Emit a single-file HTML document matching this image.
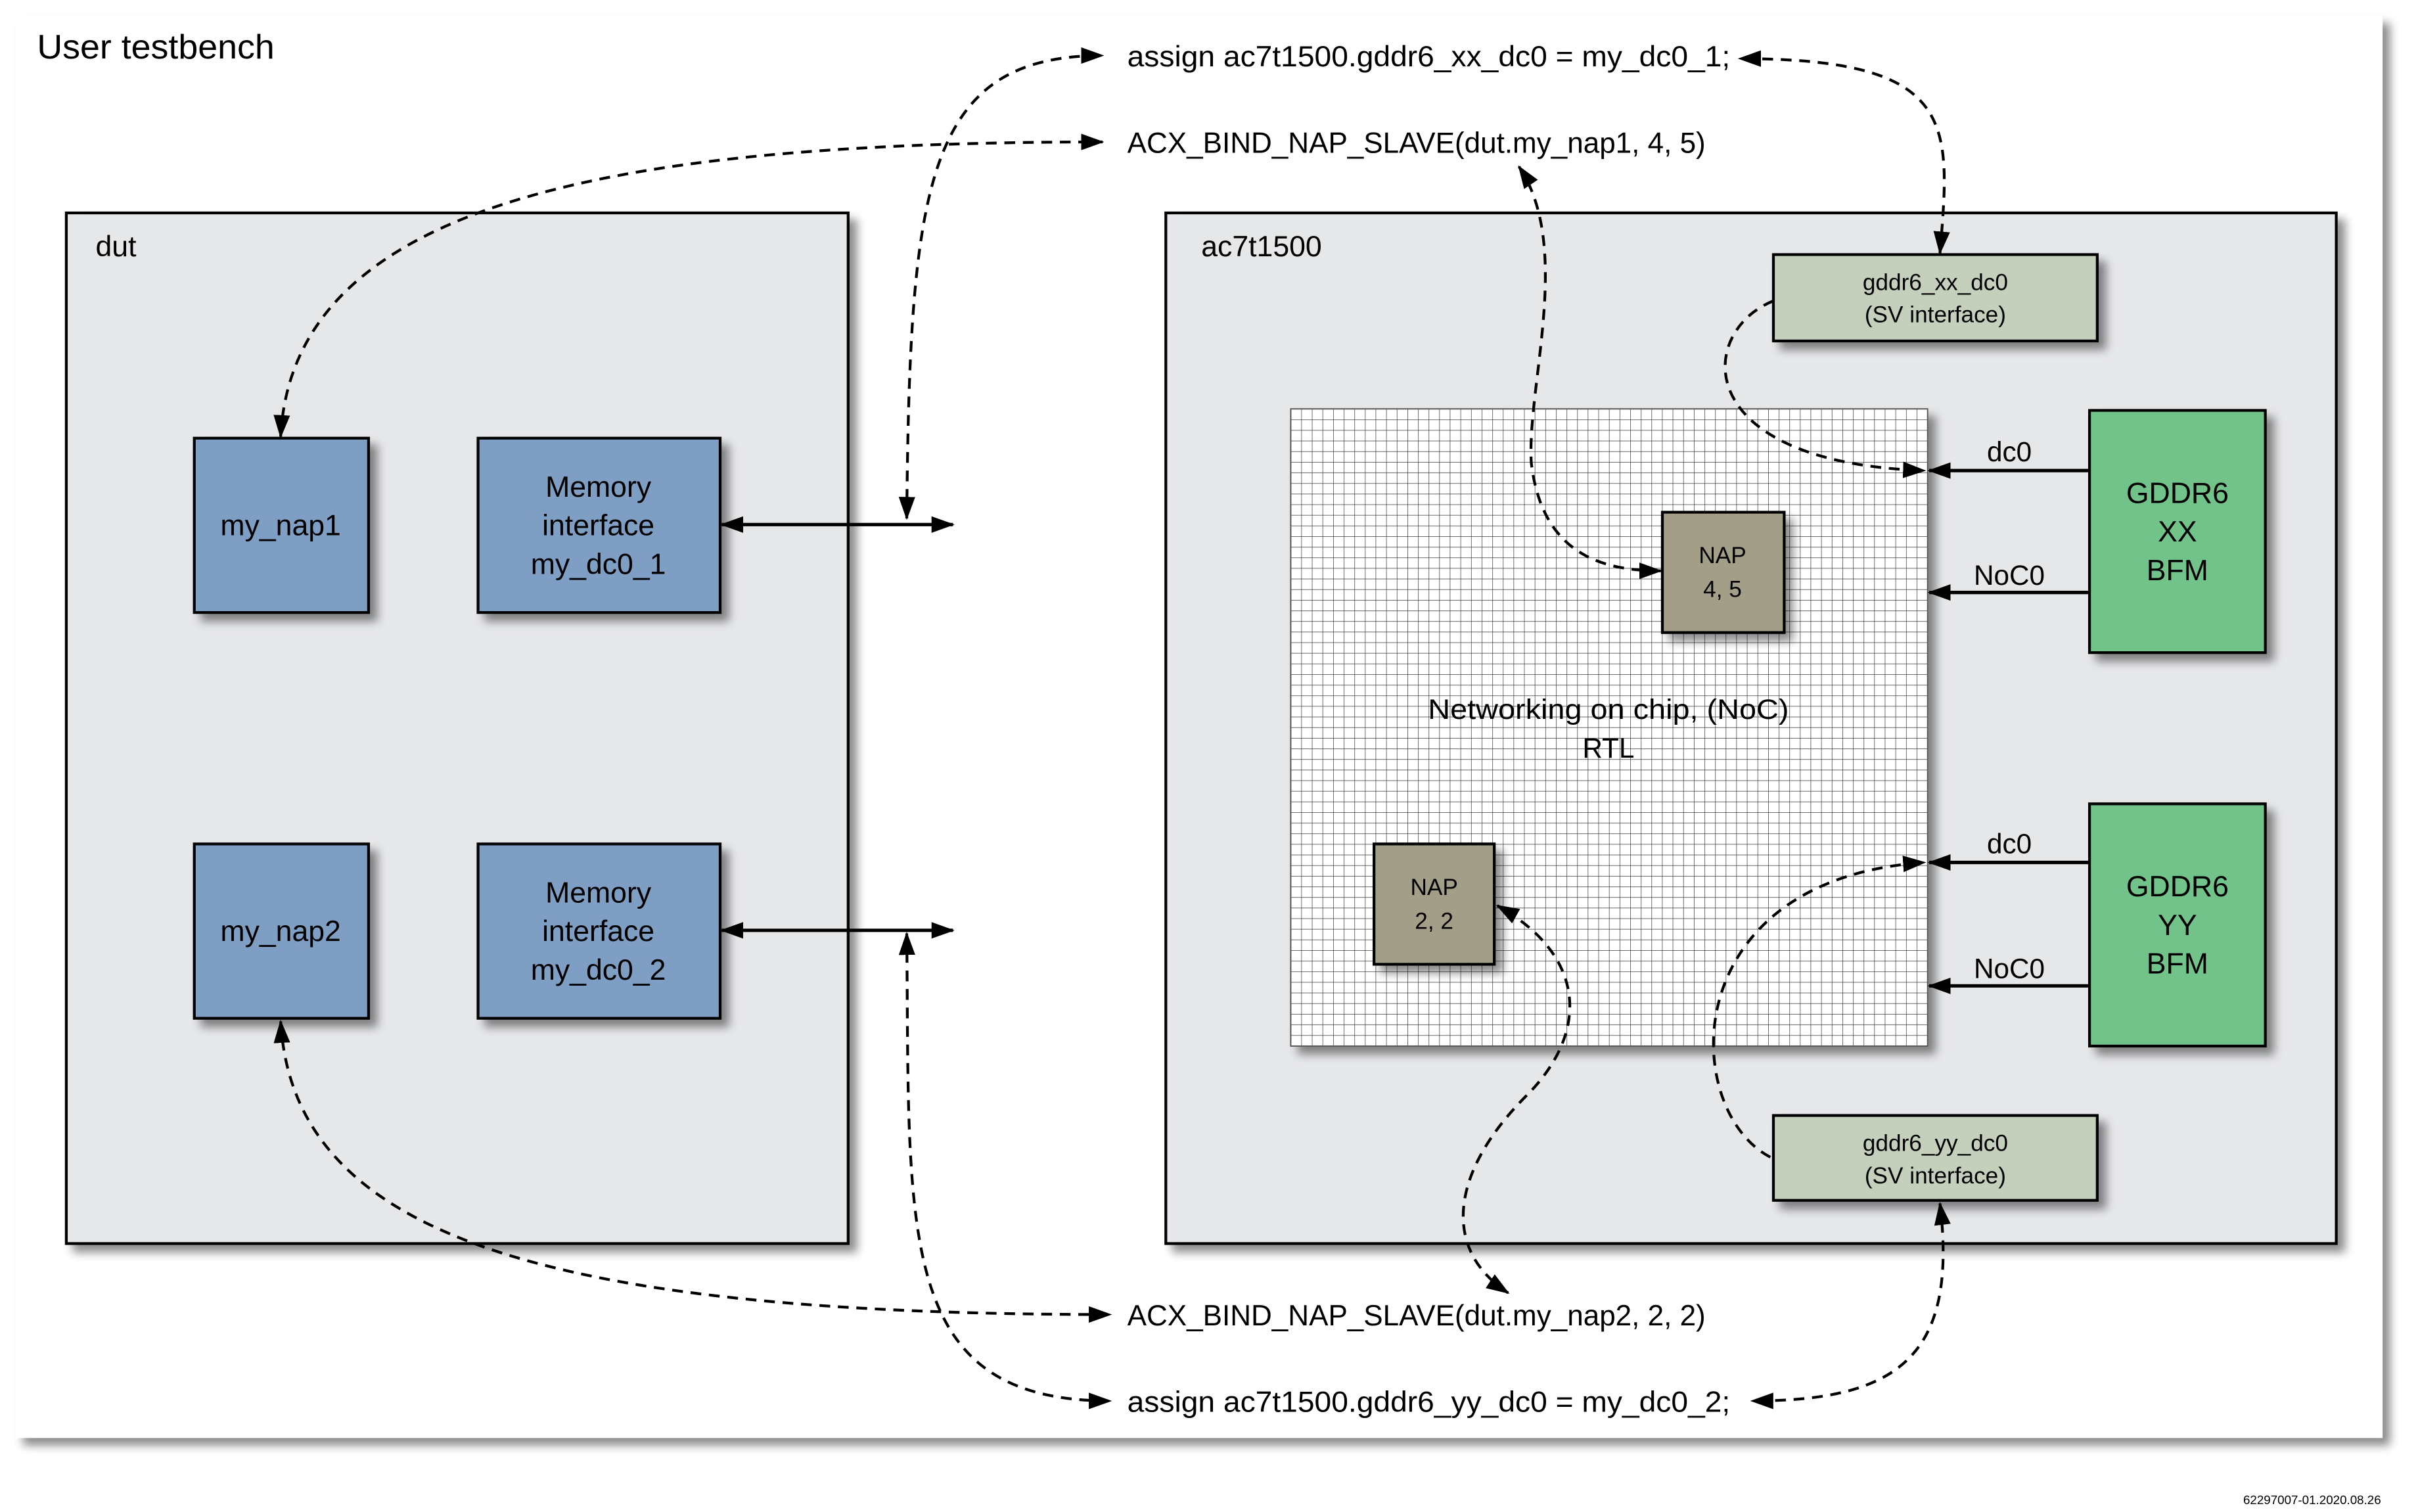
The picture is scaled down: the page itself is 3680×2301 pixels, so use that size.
<!DOCTYPE html>
<html><head><meta charset="utf-8"><style>
html,body{margin:0;padding:0;background:#fff;}
svg{display:block;}
text{font-family:"Liberation Sans",sans-serif;fill:#000;}
</style></head><body>
<svg width="3680" height="2301" viewBox="0 0 1568 980" preserveAspectRatio="none" xmlns="http://www.w3.org/2000/svg">
<defs>
<filter id="sh" x="-10%" y="-10%" width="130%" height="130%">
<feGaussianBlur in="SourceAlpha" stdDeviation="3"/>
<feOffset dx="5" dy="5" result="o"/>
<feComponentTransfer><feFuncA type="linear" slope="0.45"/></feComponentTransfer>
<feMerge><feMergeNode/><feMergeNode in="SourceGraphic"/></feMerge>
</filter>
<pattern id="grid" x="837" y="265" width="6.88" height="6.88" patternUnits="userSpaceOnUse">
<rect width="6.88" height="6.88" fill="#fff"/>
<path d="M0,0 H6.88 M0,0 V6.88" stroke="#333" stroke-width="0.6"/>
</pattern>
<marker id="ah" viewBox="0 0 14 10" refX="13" refY="5" markerWidth="15" markerHeight="11" markerUnits="userSpaceOnUse" orient="auto-start-reverse">
<path d="M0,0 L14,5 L0,10 z" fill="#000"/>
</marker>
</defs>
<rect x="0" y="0" width="1568" height="980" fill="#fff"/>
<rect x="10" y="10" width="1535" height="922" fill="#fff" filter="url(#sh)"/>
<text x="24" y="38" font-size="22" textLength="154" lengthAdjust="spacingAndGlyphs">User testbench</text>

<!-- dut -->
<rect x="43" y="138" width="507" height="668" fill="#e6e7e9" stroke="#000" stroke-width="1.8" filter="url(#sh)"/>
<text x="62" y="166" font-size="19">dut</text>
<g fill="#7f9ec3" stroke="#000" stroke-width="1.8" filter="url(#sh)">
<rect x="126" y="284" width="113" height="113"/>
<rect x="310" y="284" width="157" height="113"/>
<rect x="126" y="547" width="113" height="113"/>
<rect x="310" y="547" width="157" height="113"/>
</g>
<g font-size="19" text-anchor="middle">
<text x="182" y="347">my_nap1</text>
<text x="388" y="322">Memory</text><text x="388" y="347">interface</text><text x="388" y="372">my_dc0_1</text>
<text x="182" y="610">my_nap2</text>
<text x="388" y="585">Memory</text><text x="388" y="610">interface</text><text x="388" y="635">my_dc0_2</text>
</g>

<!-- ac7t1500 -->
<rect x="756" y="138" width="759" height="668" fill="#e6e7e9" stroke="#000" stroke-width="1.8" filter="url(#sh)"/>
<text x="779" y="166" font-size="19">ac7t1500</text>
<rect x="837" y="265" width="413" height="413" fill="url(#grid)" stroke="#555" stroke-width="0.8" filter="url(#sh)"/>
<text x="1043" y="466" font-size="18" text-anchor="middle" textLength="234" lengthAdjust="spacingAndGlyphs">Networking on chip, (NoC)</text>
<text x="1043" y="491" font-size="18" text-anchor="middle">RTL</text>
<g fill="#a39e88" stroke="#000" stroke-width="1.8" filter="url(#sh)">
<rect x="1078" y="332" width="79" height="78"/>
<rect x="891" y="547" width="78" height="78"/>
</g>
<g font-size="15" text-anchor="middle">
<text x="1117" y="365">NAP</text><text x="1117" y="387">4, 5</text>
<text x="930" y="580">NAP</text><text x="930" y="602">2, 2</text>
</g>
<g fill="#c5d0bc" stroke="#000" stroke-width="1.8" filter="url(#sh)">
<rect x="1150" y="165" width="210" height="56"/>
<rect x="1150" y="723" width="210" height="55"/>
</g>
<g font-size="15" text-anchor="middle">
<text x="1255" y="188">gddr6_xx_dc0</text><text x="1255" y="209">(SV interface)</text>
<text x="1255" y="746">gddr6_yy_dc0</text><text x="1255" y="767">(SV interface)</text>
</g>
<g fill="#72c38a" stroke="#000" stroke-width="1.8" filter="url(#sh)">
<rect x="1355" y="266" width="114" height="157"/>
<rect x="1355" y="521" width="114" height="157"/>
</g>
<g font-size="19" text-anchor="middle">
<text x="1412" y="326">GDDR6</text><text x="1412" y="351">XX</text><text x="1412" y="376">BFM</text>
<text x="1412" y="581">GDDR6</text><text x="1412" y="606">YY</text><text x="1412" y="631">BFM</text>
</g>
<g stroke="#000" stroke-width="2.2" fill="none" marker-end="url(#ah)">
<path d="M1355,305 H1251"/>
<path d="M1355,384 H1251"/>
<path d="M1355,559 H1251"/>
<path d="M1355,639 H1251"/>
</g>
<g font-size="18" text-anchor="middle">
<text x="1303" y="299">dc0</text><text x="1303" y="379">NoC0</text>
<text x="1303" y="553">dc0</text><text x="1303" y="634">NoC0</text>
</g>

<!-- solid double arrows -->
<g stroke="#000" stroke-width="2.2" fill="none" marker-start="url(#ah)" marker-end="url(#ah)">
<path d="M468,340 H618"/>
<path d="M468,603 H618"/>
</g>

<!-- labels -->
<g font-size="19">
<text x="731" y="43" textLength="391" lengthAdjust="spacingAndGlyphs">assign ac7t1500.gddr6_xx_dc0 = my_dc0_1;</text>
<text x="731" y="99" textLength="375" lengthAdjust="spacingAndGlyphs">ACX_BIND_NAP_SLAVE(dut.my_nap1, 4, 5)</text>
<text x="731" y="859" textLength="375" lengthAdjust="spacingAndGlyphs">ACX_BIND_NAP_SLAVE(dut.my_nap2, 2, 2)</text>
<text x="731" y="915" textLength="391" lengthAdjust="spacingAndGlyphs">assign ac7t1500.gddr6_yy_dc0 = my_dc0_2;</text>
</g>

<!-- dashed curves -->
<g stroke="#000" stroke-width="1.8" fill="none" stroke-dasharray="7,5" marker-end="url(#ah)">
<path marker-start="url(#ah)" d="M588,336 C590,120 600,36 715,36"/>
<path marker-start="url(#ah)" d="M182,283 C190,130 400,92 715,92"/>
<path marker-start="url(#ah)" d="M1258,164 C1265,80 1270,38 1128,38"/>
<path marker-start="url(#ah)" d="M1077,370 C1040,370 1000,360 993,300 C990,250 1020,160 985,108"/>
<path d="M1150,195 C1100,215 1095,300 1248,305"/>
<path d="M1148,750 C1090,720 1085,570 1248,559"/>
<path marker-start="url(#ah)" d="M978,838 C935,810 940,760 990,710 C1030,670 1030,620 971,587"/>
<path marker-start="url(#ah)" d="M182,662 C190,800 350,852 720,852"/>
<path marker-start="url(#ah)" d="M588,605 C590,800 580,908 720,908"/>
<path marker-start="url(#ah)" d="M1258,780 C1270,880 1230,908 1136,908"/>
</g>

<text x="1544" y="975" font-size="8" text-anchor="end" fill="#333">62297007-01.2020.08.26</text>
</svg>
</body></html>
